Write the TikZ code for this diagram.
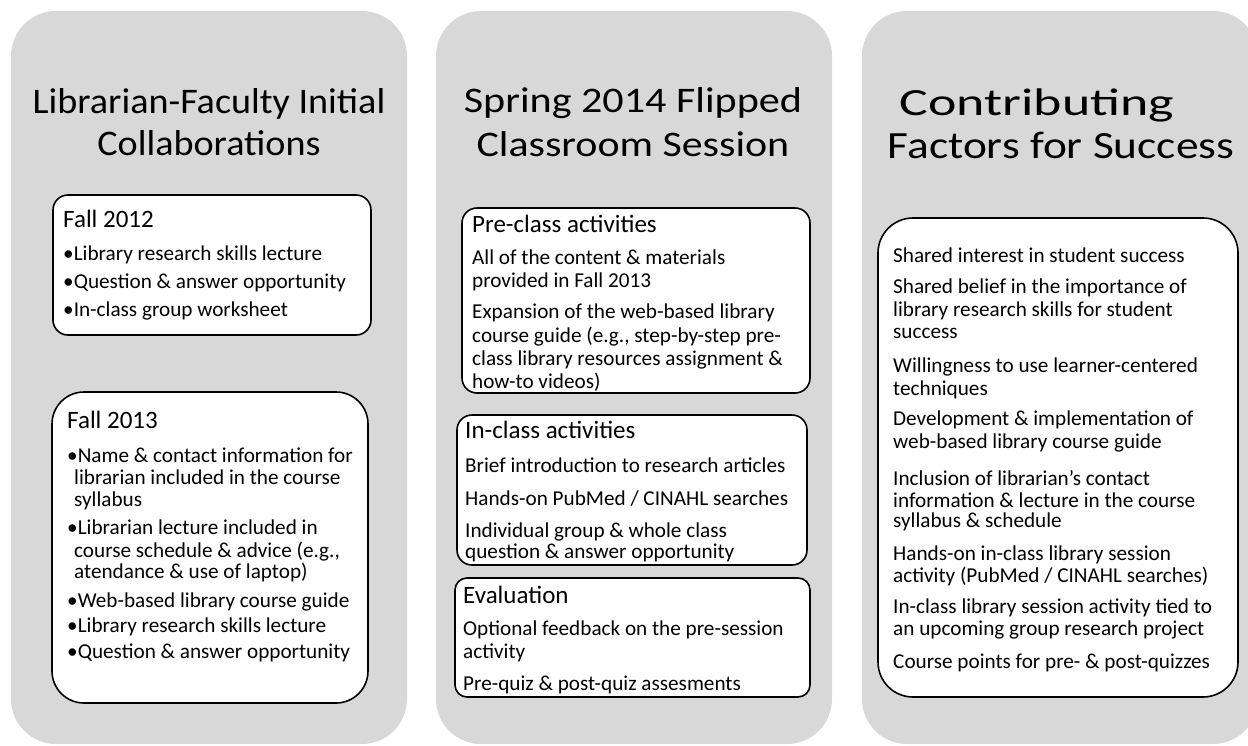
\documentclass[tikz,border=0pt]{standalone}
\usepackage{fontspec}
\setmainfont{Carlito}
\definecolor{panelgray}{RGB}{216,216,216}
\begin{document}
\begin{tikzpicture}[x=1pt,y=-1pt,
 panel/.style={fill=panelgray, draw=none, rounded corners=45pt},
 box/.style={fill=white, draw=black, line width=1.6pt, inner sep=0, outer sep=0},
 ttl/.style={anchor=base, inner sep=0, font=\fontsize{36}{42}\selectfont},
 hd/.style={anchor=base west, inner sep=0, font=\fontsize{25}{29}\selectfont},
 bl/.style={anchor=base west, inner sep=0, font=\fontsize{21.2}{24}\selectfont},
 ln/.style={anchor=base west, inner sep=0, font=\fontsize{21.2}{24}\selectfont}]
\useasboundingbox (0,0) rectangle (1248,745);
% panels
\path[panel] (11,11) rectangle (407,744);
\path[panel] (436,11) rectangle (832,744);
\path[panel] (862,11) rectangle (1258,744);
% titles
\node[ttl] (t1a) at (209,113) {\scalebox{1.06}[1]{Librarian-Faculty Initial}};
\node[ttl] (t1b) at (209,155) {\scalebox{1.06}[1]{Collaborations}};
\node[ttl] (t2a) at (633,112) {\scalebox{1.17}[1]{Spring 2014 Flipped}};
\node[ttl] (t2b) at (633,156) {\scalebox{1.165}[1]{Classroom Session}};
\node[ttl, font=\fontsize{38.5}{44}\selectfont] (t3a) at (1037,115) {\scalebox{1.4}[1]{Contributing}};
\node[ttl, font=\fontsize{38.5}{44}\selectfont] (t3b) at (1061,158) {\scalebox{1.18}[1]{Factors for Success}};
% boxes
\node[box, rounded corners=15pt, minimum width=318pt, minimum height=140pt] (f12) at (212,265) {};
\node[box, rounded corners=32pt, minimum width=316pt, minimum height=311pt] (f13) at (210,547.5) {};
\node[box, rounded corners=15pt, minimum width=348pt, minimum height=185pt] (pre) at (636,300.5) {};
\node[box, rounded corners=15pt, minimum width=350pt, minimum height=150pt] (inc) at (632,490) {};
\node[box, rounded corners=12pt, minimum width=355pt, minimum height=119pt] (eva) at (632.5,637.5) {};
\node[box, rounded corners=35pt, minimum width=360pt, minimum height=479pt] (fac) at (1058,457.5) {};
% Fall 2012
\node[hd] (h12) at (63,227) {Fall 2012};
\node[bl] (a1) at (63,260) {•Library research skills lecture};
\node[bl] (a2) at (63,288) {•Question \& answer opportunity};
\node[bl] (a3) at (63,316) {•In-class group worksheet};
% Fall 2013
\node[hd] (h13) at (67,428) {Fall 2013};
\node[bl] (b1) at (67,462) {•Name \& contact information for};
\node[bl] (b1b) at (74,484) {librarian included in the course};
\node[bl] (b1c) at (74,506) {syllabus};
\node[bl] (b2) at (67,534) {•Librarian lecture included in};
\node[bl] (b2b) at (74,557) {course schedule \& advice (e.g.,};
\node[bl] (b2c) at (74,578) {atendance \& use of laptop)};
\node[bl] (b3) at (67,607) {•Web-based library course guide};
\node[bl] (b4) at (67,632) {•Library research skills lecture};
\node[bl] (b5) at (67,658) {•Question \& answer opportunity};
% Pre-class
\node[hd] (hpre) at (472,232) {Pre-class activities};
\node[ln] (c1) at (472,264) {All of the content \& materials};
\node[ln] (c1b) at (472,287) {provided in Fall 2013};
\node[ln] (c2) at (472,318) {Expansion of the web-based library};
\node[ln] (c2b) at (472,342) {course guide (e.g., step-by-step pre-};
\node[ln] (c2c) at (472,365) {class library resources assignment \&};
\node[ln] (c2d) at (472,388) {how-to videos)};
% In-class
\node[hd] (hinc) at (465,438) {In-class activities};
\node[ln] (d1) at (465,472) {Brief introduction to research articles};
\node[ln] (d2) at (465,505) {Hands-on PubMed / CINAHL searches};
\node[ln] (d3) at (465,537) {Individual group \& whole class};
\node[ln] (d3b) at (465,558) {question \& answer opportunity};
% Evaluation
\node[hd] (heva) at (463,603) {Evaluation};
\node[ln] (e1) at (463,635) {Optional feedback on the pre-session};
\node[ln] (e1b) at (463,658) {activity};
\node[ln] (e2) at (463,690) {Pre-quiz \& post-quiz assesments};
% Factors
\node[ln] (g1) at (893,262) {Shared interest in student success};
\node[ln] (g2) at (893,293) {Shared belief in the importance of};
\node[ln] (g2b) at (893,316) {library research skills for student};
\node[ln] (g2c) at (893,338) {success};
\node[ln] (g3) at (893,372) {Willingness to use learner-centered};
\node[ln] (g3b) at (893,395) {techniques};
\node[ln] (g4) at (893,425) {Development \& implementation of};
\node[ln] (g4b) at (893,448) {web-based library course guide};
\node[ln] (g5) at (893,485) {Inclusion of librarian's contact};
\node[ln] (g5b) at (893,507) {information \& lecture in the course};
\node[ln] (g5c) at (893,527) {syllabus \& schedule};
\node[ln] (g6) at (893,560) {Hands-on in-class library session};
\node[ln] (g6b) at (893,582) {activity (PubMed / CINAHL searches)};
\node[ln] (g7) at (893,613) {In-class library session activity tied to};
\node[ln] (g7b) at (893,635) {an upcoming group research project};
\node[ln] (g8) at (893,668) {Course points for pre- \& post-quizzes};
\end{tikzpicture}
\end{document}
